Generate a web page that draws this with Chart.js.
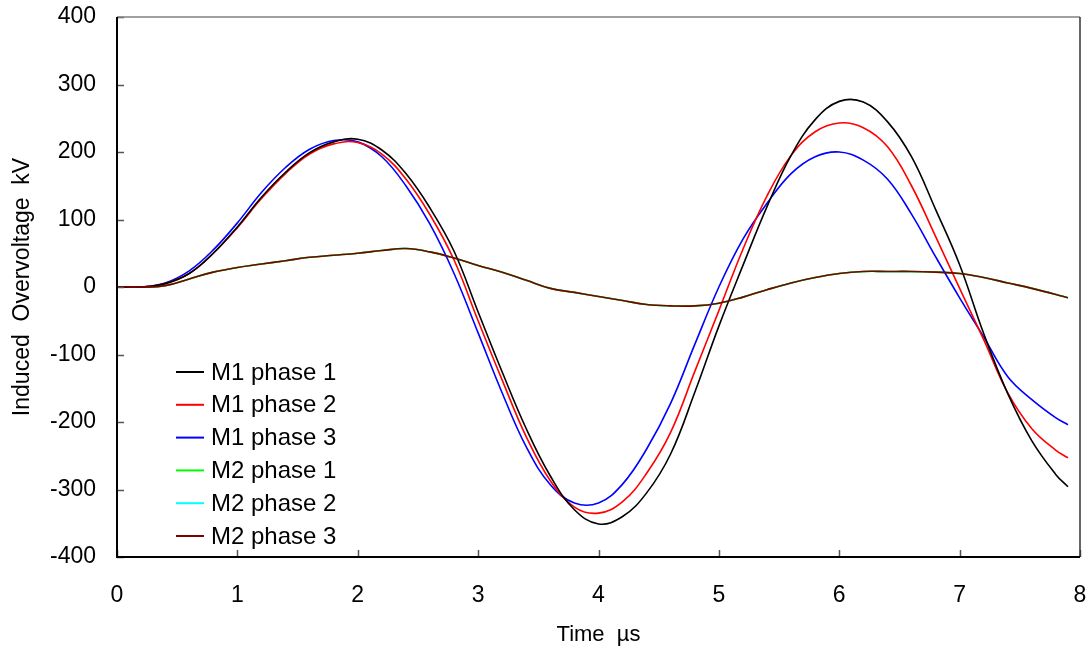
<!DOCTYPE html>
<html>
<head>
<meta charset="utf-8">
<script src="https://cdn.jsdelivr.net/npm/chart.js@4.4.1/dist/chart.umd.min.js"></script>
<style>
  html, body { margin: 0; padding: 0; background: #fff; }
  #wrap { width: 1092px; height: 652px; }
</style>
</head>
<body>
<div id="wrap"><canvas id="chart" width="1092" height="652"></canvas></div>
<script>
// time axis (µs)
const times = [0, 0.2, 0.4, 0.6, 0.8, 1.0, 1.2, 1.4, 1.6, 1.8, 2.0, 2.2, 2.4, 2.6, 2.8, 3.0, 3.2, 3.4, 3.6, 3.8,
  4.0, 4.2, 4.4, 4.6, 4.8, 5.0, 5.2, 5.4, 5.6, 5.8, 6.0, 6.2, 6.4, 6.6, 6.8, 7.0, 7.2, 7.4, 7.6, 7.8, 7.9];

const m1Phase1 = [0, 0, 5, 20, 50, 89, 133, 170, 199, 215, 219, 203, 168, 117, 53, -37, -126, -210, -280, -330,
  -351, -340, -305, -247, -156, -58, 32, 119, 195, 248, 275, 274, 245, 193, 115, 33, -69, -158, -228, -278, -296];
const m1Phase2 = [0, 0, 5, 20, 50, 88, 131, 168, 197, 212, 214, 197, 160, 107, 40, -50, -138, -222, -287, -326,
  -335, -318, -276, -215, -125, -35, 56, 135, 195, 230, 243, 236, 208, 150, 75, -2, -78, -157, -210, -242, -253];
const m1Phase3 = [0, 0, 6, 24, 55, 95, 140, 177, 204, 217, 215, 193, 150, 93, 20, -68, -157, -237, -293, -320,
  -320, -292, -240, -172, -85, 0, 71, 124, 168, 193, 200, 188, 160, 108, 45, -16, -74, -133, -167, -194, -204];
const m2Phase1 = [0, 0, 2, 12, 22, 29, 34, 39, 44, 47, 50, 54, 57, 52, 43, 32, 22, 10, -2, -8,
  -14, -20, -26, -28, -28, -24, -15, -4, 6, 14, 20, 23, 23, 23, 22, 20, 14, 6, -2, -11, -16];
const m2Phase2 = [0, 0, 2, 12, 22, 29, 34, 39, 44, 47, 50, 54, 57, 52, 43, 32, 22, 10, -2, -8,
  -14, -20, -26, -28, -28, -24, -15, -4, 6, 14, 20, 23, 23, 23, 22, 20, 14, 6, -2, -11, -16];
const m2Phase3 = [0, 0, 2, 12, 22, 29, 34, 39, 44, 47, 50, 54, 57, 52, 43, 32, 22, 10, -2, -8,
  -14, -20, -26, -28, -28, -24, -15, -4, 6, 14, 20, 23, 23, 23, 22, 20, 14, 6, -2, -11, -16];

const seriesLabels = ["M1 phase 1", "M1 phase 2", "M1 phase 3", "M2 phase 1", "M2 phase 2", "M2 phase 3"];
const seriesValues = [m1Phase1, m1Phase2, m1Phase3, m2Phase1, m2Phase2, m2Phase3];
const seriesColors = ["#000000", "#ff0000", "#0000ff", "#00ff00", "#00ffff", "#800000"];

const xTicks = [0, 1, 2, 3, 4, 5, 6, 7, 8];
const yTicks = [-400, -300, -200, -100, 0, 100, 200, 300, 400];

const FONT = "'Liberation Sans', Arial, sans-serif";

// frame, inward tick marks and legend inside the plot
const framePlugin = {
  id: "frame",
  afterDatasetsDraw(chart) {
    const { ctx, chartArea: a, scales } = chart;
    ctx.save();
    // inward ticks
    ctx.lineWidth = 1.5;
    ctx.strokeStyle = "#555";
    yTicks.forEach((v) => {
      const py = Math.round(scales.y.getPixelForValue(v)) + 0.5;
      ctx.beginPath();
      ctx.moveTo(a.left, py);
      ctx.lineTo(a.left + 7, py);
      ctx.stroke();
    });
    xTicks.forEach((v) => {
      const px = Math.round(scales.x.getPixelForValue(v)) + 0.5;
      ctx.beginPath();
      ctx.moveTo(px, a.bottom);
      ctx.lineTo(px, a.bottom - 7);
      ctx.stroke();
    });
    // box
    ctx.strokeStyle = "#808080";
    ctx.lineWidth = 1.5;
    ctx.beginPath();
    ctx.moveTo(a.left, a.top);
    ctx.lineTo(a.right, a.top);
    ctx.stroke();
    ctx.strokeStyle = "#333";
    ctx.beginPath();
    ctx.moveTo(a.right, a.top);
    ctx.lineTo(a.right, a.bottom);
    ctx.stroke();
    ctx.strokeStyle = "#000";
    ctx.lineWidth = 2;
    ctx.beginPath();
    ctx.moveTo(a.left, a.top);
    ctx.lineTo(a.left, a.bottom);
    ctx.lineTo(a.right, a.bottom);
    ctx.stroke();

    // legend
    ctx.font = "24px " + FONT;
    ctx.textBaseline = "middle";
    ctx.textAlign = "left";
    chart.data.datasets.forEach((ds, i) => {
      const y = 372 + i * 32.8;
      ctx.strokeStyle = ds.borderColor;
      ctx.lineWidth = 2;
      ctx.beginPath();
      ctx.moveTo(176, y);
      ctx.lineTo(204, y);
      ctx.stroke();
      ctx.fillStyle = "#000";
      ctx.fillText(ds.label, 211, y + 1);
    });
    ctx.restore();
  },
};

new Chart(document.getElementById("chart"), {
  type: "line",
  data: {
    datasets: seriesLabels.map((label, i) => ({
      label,
      data: times.map((t, j) => ({ x: t, y: seriesValues[i][j] })),
      borderColor: seriesColors[i],
      borderWidth: 1.6,
      pointRadius: 0,
      tension: 0.4,
      fill: false,
      order: i === 5 ? -1 : i,
    })),
  },
  options: {
    responsive: false,
    animation: false,
    layout: { padding: { top: 17, right: 12, left: 0, bottom: 0 } },
    plugins: {
      legend: { display: false },
      tooltip: { enabled: false },
    },
    scales: {
      x: {
        type: "linear",
        min: 0,
        max: 8,
        afterBuildTicks: (s) => { s.ticks = xTicks.map((v) => ({ value: v })); },
        afterFit: (s) => { s.height = 95; s.paddingLeft = 0; s.paddingRight = 0; },
        grid: { display: false, drawTicks: false },
        border: { display: false },
        ticks: { color: "#000", font: { size: 23, family: FONT }, padding: 25 },
        title: {
          display: true,
          text: "Time  \u00b5s",
          color: "#000",
          font: { size: 22, family: FONT },
          padding: { top: 8, bottom: 4 },
        },
      },
      y: {
        min: -400,
        max: 400,
        afterBuildTicks: (s) => { s.ticks = yTicks.map((v) => ({ value: v })); },
        afterFit: (s) => { s.width = 117; s.paddingTop = 0; s.paddingBottom = 0; },
        grid: { display: false, drawTicks: false },
        border: { display: false },
        ticks: { color: "#000", font: { size: 23, family: FONT }, padding: 21 },
        title: {
          display: true,
          text: "Induced  Overvoltage  kV",
          color: "#000",
          font: { size: 23, family: FONT },
          padding: { top: 9, bottom: 4 },
        },
      },
    },
  },
  plugins: [framePlugin],
});
</script>
</body>
</html>
